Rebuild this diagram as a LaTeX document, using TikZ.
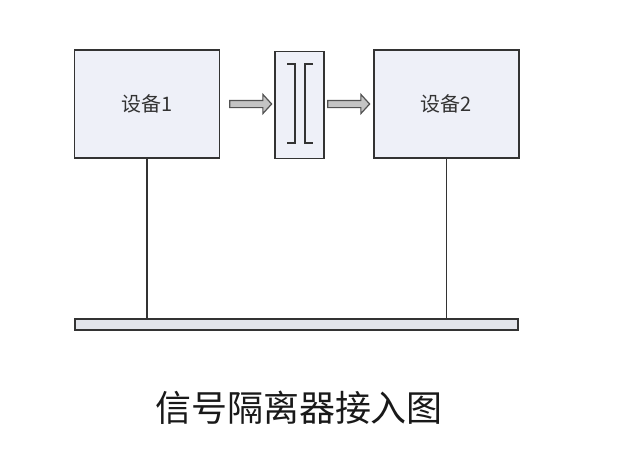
\documentclass[tikz,border=0pt]{standalone}
\usepackage{fontspec}
\newfontfamily\cjk{Noto Sans CJK SC}
\usetikzlibrary{shapes.arrows,calc}
\definecolor{boxfill}{HTML}{EEF0F8}
\definecolor{edge}{HTML}{333333}
\definecolor{busfill}{HTML}{E2E4EA}
\definecolor{arrfill}{HTML}{C4C4C4}
\tikzset{
  devbox/.style={draw=edge, line width=1.8pt, fill=boxfill, inner sep=0pt, font=\cjk\fontsize{20}{20}\selectfont, text=black!80},
  isobox/.style={draw=edge, line width=1.8pt, fill=boxfill, inner sep=0pt},
  busbar/.style={draw=edge, line width=1.8pt, fill=busfill, inner sep=0pt},
  arr/.style={single arrow, draw=edge!85, line width=1.2pt, fill=arrfill, minimum height=42pt, inner xsep=0pt, inner ysep=3pt, single arrow head extend=6pt, single arrow tip angle=95},
  wire/.style={draw=edge, line width=1.6pt},
  brk/.style={draw=edge, line width=2pt},
}
\begin{document}
\begin{tikzpicture}[x=1pt,y=-1pt]
\useasboundingbox[fill=white] (0,0) rectangle (638,456);
\node[devbox, minimum width=145pt, minimum height=108pt] (d1) at (147,104) {设备1};
\node[isobox, minimum width=49pt, minimum height=107pt] (iso) at (299.5,105) {};
\node[devbox, minimum width=145pt, minimum height=108pt] (d2) at (446.5,104) {设备2};
\node[busbar, minimum width=443pt, minimum height=11pt] (bus) at (296.5,324.5) {};
\node[arr] (a1) at (249,104) {};
\node[arr] (a2) at (347,104) {};
\draw[brk] (287,64) -- (295,64) -- (295,143) -- (287,143);
\draw[brk] (313,64) -- (305,64) -- (305,143) -- (313,143);
\draw[wire] (d1.south) -- (d1.south |- bus.north);
\draw[wire] (d2.south) -- (d2.south |- bus.north);
\node[font=\cjk\fontsize{36}{36}\selectfont, text=black!90] (cap) at (299,408) {信号隔离器接入图};
\end{tikzpicture}
\end{document}
